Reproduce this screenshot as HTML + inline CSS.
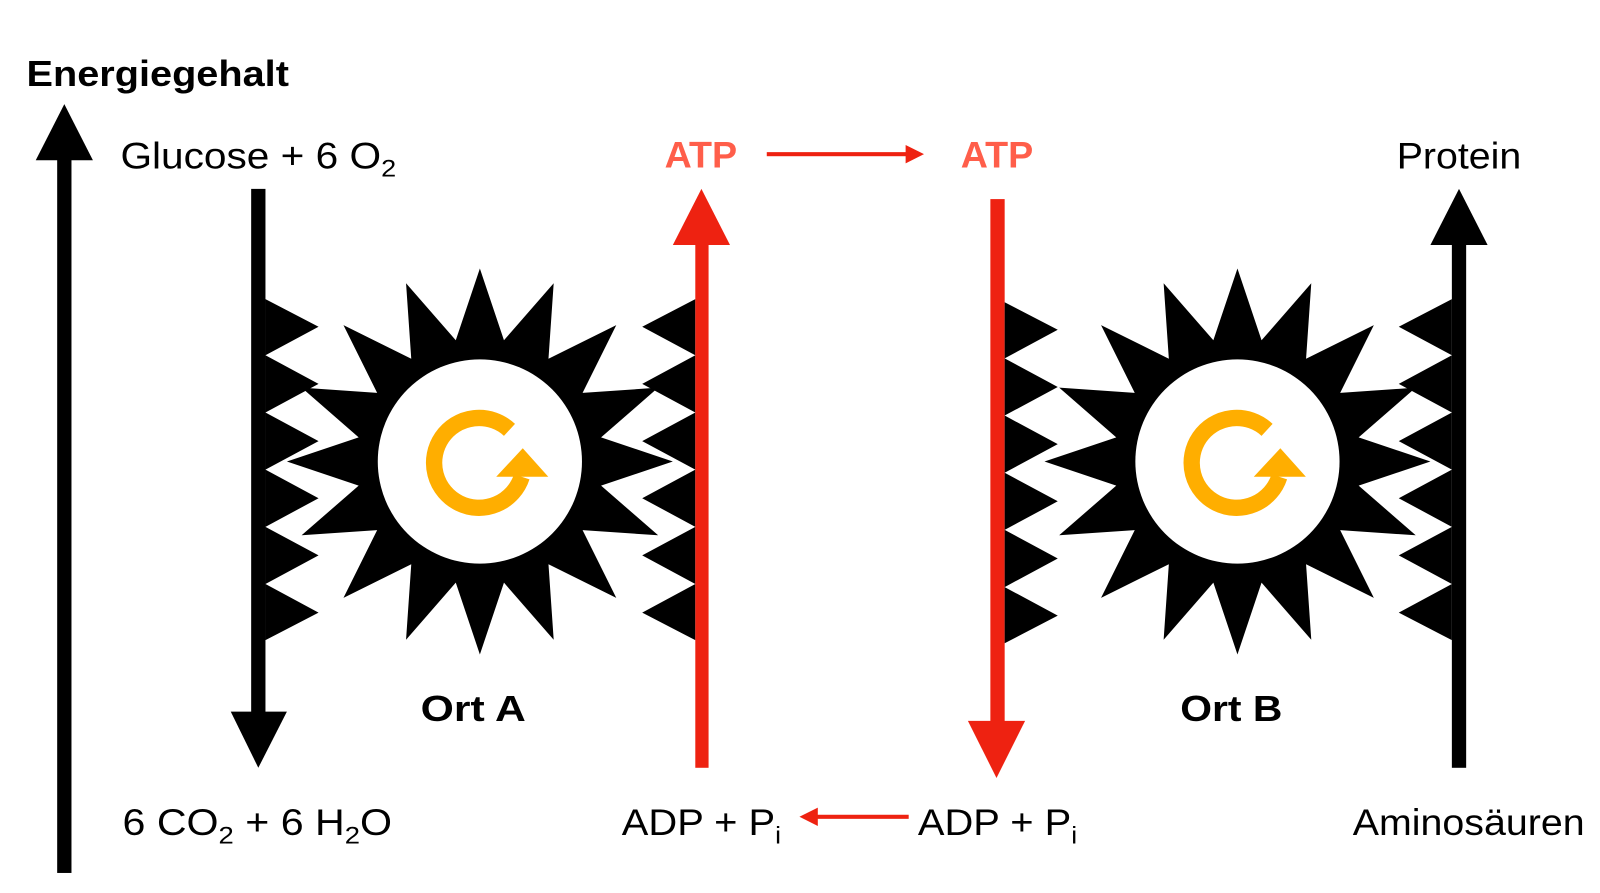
<!DOCTYPE html>
<html><head><meta charset="utf-8"><style>
html,body{margin:0;padding:0;background:#fff;}
svg{display:block;}
text{font-family:"Liberation Sans",sans-serif;}
</style></head><body>
<svg width="1600" height="893" viewBox="0 0 1600 893" xmlns="http://www.w3.org/2000/svg">
<defs>
<g id="gear">
<polygon fill="#000" points="0,-189 23.6,-118.7 72.3,-174.6 67.2,-100.6 133.6,-133.6 100.6,-67.2 174.6,-72.3 118.7,-23.6 189,0 118.7,23.6 174.6,72.3 100.6,67.2 133.6,133.6 67.2,100.6 72.3,174.6 23.6,118.7 0,189 -23.6,118.7 -72.3,174.6 -67.2,100.6 -133.6,133.6 -100.6,67.2 -174.6,72.3 -118.7,23.6 -189,0 -118.7,-23.6 -174.6,-72.3 -100.6,-67.2 -133.6,-133.6 -67.2,-100.6 -72.3,-174.6 -23.6,-118.7"/>
<circle r="100" fill="#fff"/>
<path d="M 29 -31 A 44 44 0 1 0 41 15" fill="none" stroke="#FFAE00" stroke-width="16"/>
<polygon points="16,15 67,15 42,-13" fill="#FFAE00"/>
</g>
<polygon id="rackR" fill="#000" points="0,293 52,320 0,348 52,376 0,404 52,432 0,460 52,488 0,516 52,544 0,572 52,600 0,627"/>
</defs>
<g transform="scale(1.021)">
<rect x="56" y="150" width="14" height="705" fill="#000"/>
<polygon points="63,102 35,157 91,157" fill="#000"/>
<text x="26" y="84" font-size="35" font-weight="bold" textLength="257" lengthAdjust="spacingAndGlyphs">Energiegehalt</text>

<use href="#gear" x="470" y="452"/>
<rect x="246" y="185" width="14" height="515" fill="#000"/>
<use href="#rackR" x="260" y="0"/>
<polygon points="226,697 281,697 253,752" fill="#000"/>
<g transform="translate(681,0) scale(-1,1)"><use href="#rackR"/></g>
<rect x="681" y="235" width="13" height="517" fill="#EE2211"/>
<polygon points="687,185 659,240 715,240" fill="#EE2211"/>

<use href="#gear" x="1212" y="452"/>
<rect x="970" y="195" width="14" height="515" fill="#EE2211"/>
<polygon points="948,706 1004,706 976,762" fill="#EE2211"/>
<use href="#rackR" x="984" y="3"/>
<g transform="translate(1422,0) scale(-1,1)"><use href="#rackR"/></g>
<rect x="1422" y="235" width="14" height="517" fill="#000"/>
<polygon points="1429,185 1401,240 1457,240" fill="#000"/>

<rect x="751" y="149" width="140" height="4" fill="#EE2211"/>
<polygon points="905,151 887,142 887,160" fill="#EE2211"/>
<rect x="798" y="798" width="92" height="4" fill="#EE2211"/>
<polygon points="783,800 801,791 801,809" fill="#EE2211"/>

<text x="118" y="165" font-size="36" textLength="270" lengthAdjust="spacingAndGlyphs">Glucose + 6 O<tspan font-size="24" dy="8">2</tspan></text>
<text x="120" y="818" font-size="36" textLength="264" lengthAdjust="spacingAndGlyphs">6 CO<tspan font-size="24" dy="8">2</tspan><tspan dy="-8"> + 6 H</tspan><tspan font-size="24" dy="8">2</tspan><tspan dy="-8">O</tspan></text>
<text x="651" y="164" font-size="36" font-weight="bold" fill="#FF5E4A" textLength="71" lengthAdjust="spacingAndGlyphs">ATP</text>
<text x="941" y="164" font-size="36" font-weight="bold" fill="#FF5E4A" textLength="71" lengthAdjust="spacingAndGlyphs">ATP</text>
<text x="1368" y="165" font-size="36" textLength="122" lengthAdjust="spacingAndGlyphs">Protein</text>
<text x="609" y="818" font-size="36" textLength="156" lengthAdjust="spacingAndGlyphs">ADP + P<tspan font-size="24" dy="8">i</tspan></text>
<text x="899" y="818" font-size="36" textLength="156" lengthAdjust="spacingAndGlyphs">ADP + P<tspan font-size="24" dy="8">i</tspan></text>
<text x="1325" y="818" font-size="36" textLength="227" lengthAdjust="spacingAndGlyphs">Aminosäuren</text>
<text x="412" y="706" font-size="35" font-weight="bold" textLength="103" lengthAdjust="spacingAndGlyphs">Ort A</text>
<text x="1156" y="706" font-size="35" font-weight="bold" textLength="100" lengthAdjust="spacingAndGlyphs">Ort B</text>
</g>
</svg>
</body></html>
